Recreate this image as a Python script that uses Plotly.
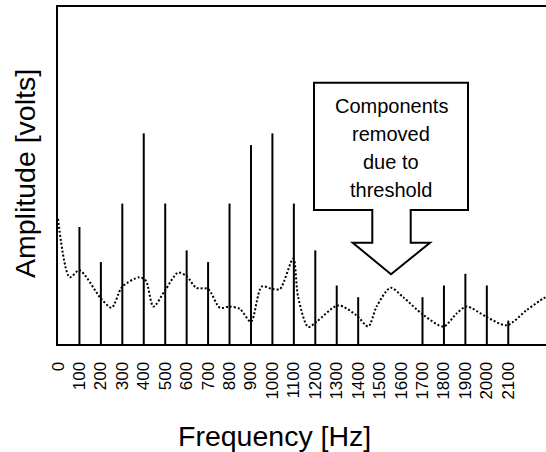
import plotly.graph_objects as go

# ---- data ----
stem_freqs = [100, 200, 300, 400, 500, 600, 700, 800, 900, 1000, 1100, 1200, 1300, 1400,
              1700, 1800, 1900, 2000, 2100]
stem_amps = [10, 7, 12, 18, 12, 8, 7, 12, 17, 18, 12, 8, 5, 4,
             4, 5, 6, 5, 2]

curve_freqs = [0, 55, 100, 200, 250, 300, 380, 410, 445, 500, 560, 600, 645, 700, 755, 800,
               848, 900, 950, 1000, 1035, 1097, 1120, 1167, 1206, 1307, 1392, 1447, 1486,
               1551, 1610, 1703, 1798, 1859, 1906, 2000, 2093, 2186, 2264, 2276]
curve_amps = [10.7, 5.7, 6.3, 3.9, 3.1, 4.9, 5.7, 5.4, 3.2, 4.6, 6.1, 5.8, 4.8, 4.7, 3.1, 3.2,
              3.0, 1.9, 4.9, 4.7, 4.7, 7.3, 4.0, 1.45, 1.9, 3.3, 2.45, 1.5, 3.2,
              4.8, 4.0, 2.5, 1.5, 2.6, 3.2, 2.3, 1.6, 2.9, 3.9, 4.0]

tick_vals = list(range(0, 2101, 100))
tick_text = [str(v) for v in tick_vals]

callout_lines = ["Components", "removed", "due to", "threshold"]
x_title = "Frequency [Hz]"
y_title = "Amplitude [volts]"

# ---- figure geometry ----
W, H = 546, 452
ML, MR, MT, MB = 58, 0, 7, 108
PW, PH = W - ML - MR, H - MT - MB


def px(x):
    return (x - ML) / PW


def py(y):
    return (H - MB - y) / PH


stem_x, stem_y = [], []
for f, a in zip(stem_freqs, stem_amps):
    stem_x += [f, f, None]
    stem_y += [0, a, None]

fig = go.Figure()
fig.add_trace(go.Scatter(x=curve_freqs, y=curve_amps, mode="lines",
                         line=dict(color="black", width=2, dash="2px,2px", shape="spline", smoothing=0.8),
                         hoverinfo="skip", showlegend=False))
fig.add_trace(go.Scatter(x=stem_x, y=stem_y, mode="lines",
                         line=dict(color="black", width=2),
                         hoverinfo="skip", showlegend=False))

# callout arrow box (paper coordinates)
pts = [(314, 82.7), (468, 82.7), (468, 210), (410.7, 210), (410.7, 242.7), (430, 242.7),
       (391, 274.3), (352.7, 242.7), (372.3, 242.7), (372.3, 210), (314, 210)]
path = "M " + " L ".join(f"{px(x):.5f},{py(y):.5f}" for x, y in pts) + " Z"
fig.add_shape(type="path", path=path, xref="paper", yref="paper",
              line=dict(color="black", width=2), fillcolor="white")

for i, line in enumerate(callout_lines):
    fig.add_annotation(text=line, xref="paper", yref="paper",
                       x=px(391), y=py(106 + 28 * i), xanchor="center", yanchor="middle",
                       showarrow=False,
                       font=dict(family="Liberation Sans, Arial", size=20, color="black"))

fig.add_annotation(text=x_title, xref="paper", yref="paper",
                   x=px(274), y=py(436), xanchor="center", yanchor="middle",
                   showarrow=False,
                   font=dict(family="Liberation Sans, Arial", size=28.5, color="black"))
fig.add_annotation(text=y_title, xref="paper", yref="paper",
                   x=px(25), y=py(174), xanchor="center", yanchor="middle",
                   textangle=-90, showarrow=False,
                   font=dict(family="Liberation Sans, Arial", size=28.5, color="black"))

fig.update_layout(
    width=W, height=H,
    margin=dict(l=ML, r=MR, t=MT, b=MB, pad=0),
    paper_bgcolor="white", plot_bgcolor="white",
    showlegend=False,
    font=dict(family="Liberation Sans, Arial", color="black"),
)
fig.update_xaxes(range=[0, 2276], showgrid=False, zeroline=False,
                 showline=True, linecolor="black", linewidth=2, mirror=True,
                 tickmode="array", tickvals=tick_vals, ticktext=tick_text,
                 tickangle=-90, ticks="", ticklabelstandoff=9,
                 tickfont=dict(family="Liberation Sans, Arial", size=17, color="black"))
fig.update_yaxes(range=[0, 28.8], showgrid=False, zeroline=False,
                 showline=True, linecolor="black", linewidth=2, mirror=False,
                 showticklabels=False, ticks="")

fig.write_html("out.html")
